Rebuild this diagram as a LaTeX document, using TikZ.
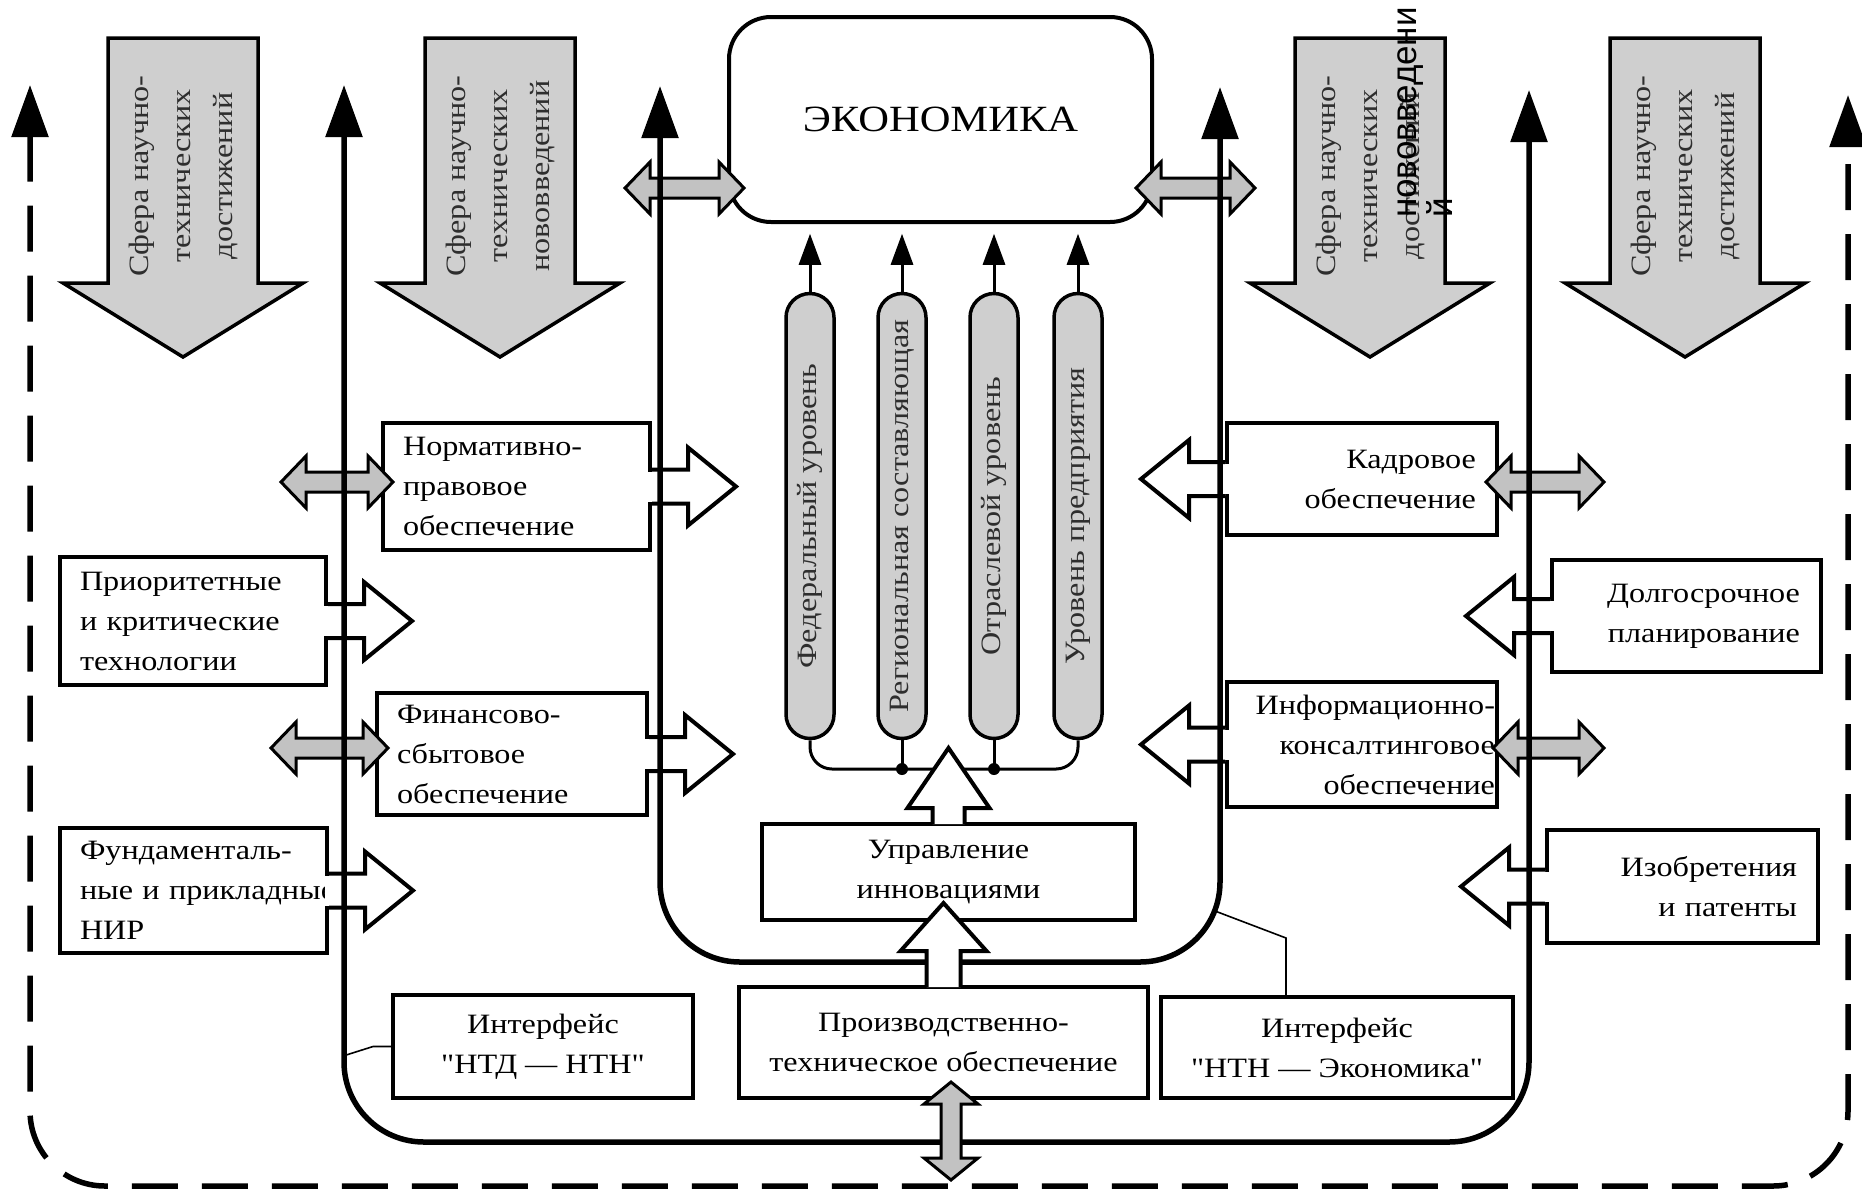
\documentclass[tikz,border=0pt]{standalone}
\usepackage{fontspec}
\setmainfont{Liberation Serif}[FakeStretch=1.15, Ligatures=TeXOff]
\newfontfamily\overlayfont{Liberation Sans}
\usetikzlibrary{arrows.meta}

\definecolor{shadegray}{gray}{0.81}
\definecolor{dblgray}{gray}{0.76}
\definecolor{inkgray}{gray}{0.18}

\tikzset{
  bigtip/.tip={Triangle[length=52pt,width=36pt]},
  smalltip/.tip={Triangle[length=31pt,width=22pt]}
}

\begin{document}
\begin{tikzpicture}[x=1pt, y=-1pt,
    txt/.style={font=\fontsize{28}{40}\selectfont},
    box/.style={txt, draw, line width=4pt, fill=white, inner ysep=0pt},
    lbox/.style={box, align=left, inner xsep=20pt},
    rbox/.style={box, align=right, inner xsep=21pt},
    cbox/.style={box, align=center, inner xsep=0pt},
    pill/.style={txt, text=inkgray, draw, line width=3.5pt, fill=shadegray,
      rounded corners=24pt, minimum width=445pt, minimum height=48pt,
      inner sep=0pt, rotate=90},
    bigarrow/.style={draw, line width=3.5pt, fill=shadegray},
    bigtext/.style={font=\fontsize{28}{42}\selectfont, text=inkgray,
      rotate=90, align=center},
    flag/.style={draw, line width=4pt, fill=white},
    dblarrow/.style={draw, line width=3pt, fill=dblgray},
    uline/.style={line width=5.5pt, rounded corners=80pt, bigtip-bigtip},
    dashline/.style={line width=5.5pt, rounded corners=75pt,
      dash pattern=on 46pt off 24pt, bigtip-bigtip},
    bar/.style={line width=3pt},
    thinline/.style={line width=1.6pt},
    overlaytext/.style={font=\overlayfont\fontsize{35}{36}\selectfont,
      rotate=90, anchor=north west, align=left, inner sep=0pt}
  ]
\useasboundingbox (0,0) rectangle (1862,1195);

% spheres
\foreach \c in {183,500,1370,1685}
  \filldraw[bigarrow] (\c-75,38) -- (\c+75,38) -- (\c+75,283) -- (\c+120,283)
    -- (\c,357) -- (\c-120,283) -- (\c-75,283) -- cycle;
\node[bigtext] (sf1) at (183,176) {Сфера научно-\\технических\\достижений};
\node[bigtext] (sf2) at (500,176) {Сфера научно-\\технических\\нововведений};
\node[bigtext] (sf3) at (1370,176) {Сфера научно-\\технических\\достижений};
\node[bigtext] (sf4) at (1685,176) {Сфера научно-\\технических\\достижений};

% economy
\node[cbox, rounded corners=42pt, minimum width=423pt, minimum height=205pt,
  font=\fontsize{37}{40}\selectfont] (econ) at (940.5,119.5) {ЭКОНОМИКА};

% levels
\node[pill] (p1) at (810,516) {Федеральный уровень};
\node[pill] (p2) at (902,516) {Региональная составляющая};
\node[pill] (p3) at (994,516) {Отраслевой уровень};
\node[pill] (p4) at (1078,516) {Уровень предприятия};
\foreach \p in {p1,p2,p3,p4}
  \draw[bar, -smalltip] (\p.east) -- ++(0,-58);
\coordinate (j2) at (902,769);
\coordinate (j3) at (994,769);
\draw[bar, rounded corners=22pt] (p1.west) |- (j2) -- (j3) -| (p4.west);
\draw[bar] (p2.west) -- (j2);
\draw[bar] (p3.west) -- (j3);
\fill (j2) circle (6pt);
\fill (j3) circle (6pt);

% side boxes
\node[lbox, minimum height=127pt, text width=227pt] (norm) at (516.5,486.5)
  {Нормативно-\\правовое\\обеспечение};
\node[lbox, minimum height=128pt, text width=226pt] (prio) at (193,621)
  {Приоритетные\\и~критические\\технологии};
\node[lbox, minimum height=122pt, text width=230pt] (fin) at (512,754)
  {Финансово-\\сбытовое\\обеспечение};
\node[lbox, minimum height=125pt, text width=227pt] (fund) at (193.5,890.5)
  {Фундаменталь-\\ные~и~прикладные\\НИР};
\node[rbox, minimum height=112pt, text width=228pt] (kadr) at (1362,479)
  {Кадровое\\обеспечение};
\node[rbox, minimum height=112pt, text width=227pt] (dolg) at (1686.5,616)
  {Долгосрочное\\планирование};
\node[rbox, inner xsep=2pt, minimum height=125pt, text width=266pt] (info) at (1362,744.5)
  {Информационно-\\консалтинговое\\обеспечение};
\node[rbox, minimum height=113pt, text width=229pt] (izob) at (1682.5,886.5)
  {Изобретения\\и~патенты};

% centre boxes
\node[cbox, minimum width=373pt, minimum height=96pt] (upr) at (948.5,872)
  {Управление\\инновациями};
\node[cbox, minimum width=409pt, minimum height=111pt] (proizv) at (943.5,1042.5)
  {Производственно-\\техническое обеспечение};
\node[cbox, minimum width=300pt, minimum height=103pt] (ntd) at (543,1046.5)
  {Интерфейс\\"НТД — НТН"};
\node[cbox, minimum width=352pt, minimum height=101pt] (ntn) at (1337,1047.5)
  {Интерфейс\\"НТН — Экономика"};

% box arrows
\foreach \b/\a/\s in {norm/east/1, prio/east/1, fin/east/1, fund/east/1,
    kadr/west/-1, dolg/west/-1, info/west/-1, izob/west/-1} {
  \fill[white] ([xshift={-4*(\s)}]\b.\a) ++(0,-15) rectangle ++({10*(\s)},30);
  \draw[flag] (\b.\a) ++(0,-17) -- ++({36*(\s)},0) -- ++(0,-22) -- ++({48*(\s)},39)
    -- ++({-48*(\s)},39) -- ++(0,-22) -- ++({-36*(\s)},0);
}

% two-way links
\foreach \xa/\xb/\yc in {281/393/482, 271/388/748, 1486/1604/482,
    1493/1604/748, 625/744/188, 1136/1255/188}
  \filldraw[dblarrow] (\xa,\yc) -- (\xa+25,\yc-26) -- (\xa+25,\yc-10)
    -- (\xb-25,\yc-10) -- (\xb-25,\yc-26) -- (\xb,\yc) -- (\xb-25,\yc+26)
    -- (\xb-25,\yc+10) -- (\xa+25,\yc+10) -- (\xa+25,\yc+26) -- cycle;

% frames
\coordinate (td1) at (30,85);
\coordinate (td2) at (1848,95);
\coordinate (t1) at (344,85);
\coordinate (t2) at (660,86);
\coordinate (t3) at (1220,87);
\coordinate (t4) at (1529,90);
\coordinate (innerbase) at (0,962);
\coordinate (outerbase) at (0,1142);
\coordinate (dashbase) at (0,1186);
\draw[dashline] (td1) |- (td2 |- dashbase) -- (td2);
\draw[uline] (t1) |- (t4 |- outerbase) -- (t4);
\draw[uline] (t2) |- (t3 |- innerbase) -- (t3);

% interface leaders
\coordinate (uleft) at (343,1056);
\coordinate (uright) at (1215,911);
\draw[thinline] (ntd.west) -- ++(-18,0) -- (uleft);
\draw[thinline] ([xshift=-51pt]ntn.north) -- ++(0,-57) -- (uright);

% upward flow
\filldraw[flag] (upr.north) ++(-16,2) -- ++(0,-16) -- ++(-25,0) -- ++(41,-60)
  -- ++(41,60) -- ++(-25,0) -- ++(0,16);
\filldraw[flag] (proizv.north) ++(-17,2) -- ++(0,-36) -- ++(-26,0) -- ++(43,-48)
  -- ++(43,48) -- ++(-26,0) -- ++(0,36);
\filldraw[dblarrow] ([xshift=7.5pt,yshift=18pt]proizv.south) -- ++(27,22)
  -- ++(-17,0) -- ++(0,54) -- ++(17,0) -- ++(-27,22) -- ++(-27,-22)
  -- ++(17,0) -- ++(0,-54) -- ++(-17,0) -- cycle;

\node[overlaytext] (nov) at (1397,218) {нововведени\\й};
\end{tikzpicture}
\end{document}
